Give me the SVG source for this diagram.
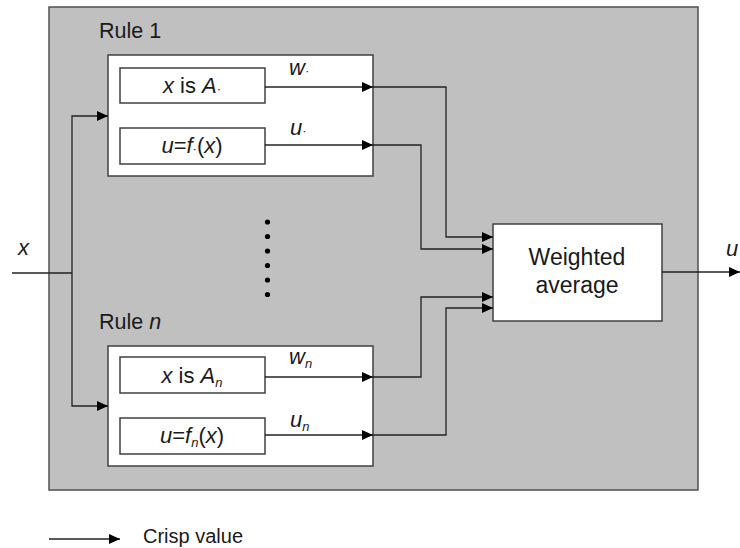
<svg xmlns="http://www.w3.org/2000/svg" width="740" height="548" viewBox="0 0 740 548">
<defs>
<marker id="ah" markerWidth="12" markerHeight="10" refX="11" refY="5" orient="auto" markerUnits="userSpaceOnUse">
<path d="M0,0 L11,5 L0,10 Z" fill="#000"/>
</marker>
<style>
.t{font-family:"Liberation Sans",Arial,sans-serif;font-size:21px;fill:#1a1a1a}
.i{font-style:italic}
.sub{font-size:13px;font-style:italic}
.box{fill:#fff;stroke:#404040;stroke-width:1.5}
.ln{fill:none;stroke:#222;stroke-width:1.3}
.arr{fill:none;stroke:#222;stroke-width:1.3;marker-end:url(#ah)}
</style>
</defs>
<rect x="49" y="7" width="649" height="483" fill="#c0c0c0" stroke="#505050" stroke-width="1.5"/>

<g id="rule1">
<text class="t" x="99" y="38" style="font-size:21.5px">Rule 1</text>
<rect class="box" x="108" y="55" width="265" height="121"/>
</g>
<g id="rule1-antecedent">
<rect class="box" x="120" y="68" width="145" height="35"/>
<text class="t" x="192" y="93" text-anchor="middle" style="font-size:22px"><tspan class="i">x</tspan> is <tspan class="i">A</tspan><tspan class="sub">·</tspan></text>
</g>
<g id="rule1-consequent">
<rect class="box" x="120" y="128" width="145" height="36"/>
<text class="t" x="192" y="153" text-anchor="middle" style="font-size:22px"><tspan class="i">u</tspan>=<tspan class="i">f</tspan><tspan class="sub">·</tspan>(<tspan class="i">x</tspan>)</text>
</g>

<g id="rulen">
<text class="t" x="99" y="329" style="font-size:21.5px">Rule <tspan class="i">n</tspan></text>
<rect class="box" x="108" y="346" width="265" height="120"/>
</g>
<g id="rulen-antecedent">
<rect class="box" x="120" y="357" width="145" height="36"/>
<text class="t" x="192" y="383" text-anchor="middle" style="font-size:22px"><tspan class="i">x</tspan> is <tspan class="i">A</tspan><tspan class="sub" dy="4">n</tspan></text>
</g>
<g id="rulen-consequent">
<rect class="box" x="120" y="418" width="145" height="36"/>
<text class="t" x="192" y="443" text-anchor="middle" style="font-size:22px"><tspan class="i">u</tspan>=<tspan class="i">f</tspan><tspan class="sub" dy="4">n</tspan><tspan dy="-4">(</tspan><tspan class="i">x</tspan>)</text>
</g>

<g id="weighted-average">
<rect class="box" x="493" y="224" width="169" height="97"/>
<text class="t" x="577" y="265" text-anchor="middle" style="font-size:23px">Weighted</text>
<text class="t" x="577" y="293" text-anchor="middle" style="font-size:23px">average</text>
</g>

<g id="dots" fill="#000">
<circle cx="267.5" cy="222" r="2.6"/>
<circle cx="267.5" cy="236.5" r="2.6"/>
<circle cx="267.5" cy="251" r="2.6"/>
<circle cx="267.5" cy="265.5" r="2.6"/>
<circle cx="267.5" cy="280" r="2.6"/>
<circle cx="267.5" cy="294.5" r="2.6"/>
</g>

<g id="connectors">
<path class="ln" d="M12,273 H72"/>
<path class="arr" d="M72,273 V116 H108"/>
<path class="arr" d="M72,273 V406 H108"/>
<path class="arr" d="M265,87 H373"/>
<path class="arr" d="M265,145 H373"/>
<path class="arr" d="M265,377 H373"/>
<path class="arr" d="M265,435 H373"/>
<path class="arr" d="M373,87 H446 V237 H493"/>
<path class="arr" d="M373,145 H421 V249 H493"/>
<path class="arr" d="M373,377 H421 V297 H493"/>
<path class="arr" d="M373,435 H446 V308 H493"/>
<path class="arr" d="M662,272 H740"/>
</g>

<g id="labels">
<text class="t i" x="18" y="255" style="font-size:22px">x</text>
<text class="t i" x="726" y="256" style="font-size:22px">u</text>
<text class="t" x="289" y="75" style="font-size:22px"><tspan class="i">w</tspan><tspan class="sub">·</tspan></text>
<text class="t" x="290" y="135" style="font-size:22px"><tspan class="i">u</tspan><tspan class="sub">·</tspan></text>
<text class="t" x="289" y="364" style="font-size:22px"><tspan class="i">w</tspan><tspan class="sub" dy="4">n</tspan></text>
<text class="t" x="290" y="427" style="font-size:22px"><tspan class="i">u</tspan><tspan class="sub" dy="4">n</tspan></text>
</g>

<g id="legend">
<path class="arr" d="M49,539 H120"/>
<text class="t" x="143" y="543" style="font-size:20px">Crisp value</text>
</g>
</svg>
